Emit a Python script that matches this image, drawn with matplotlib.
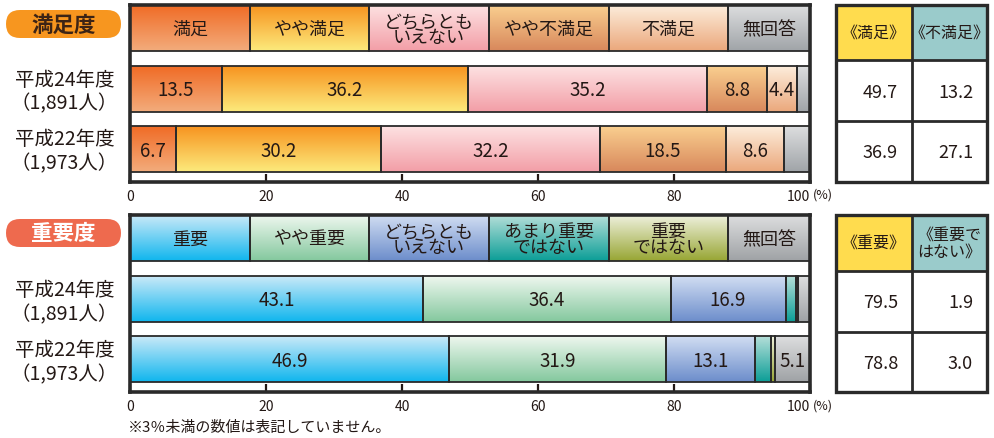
import matplotlib
matplotlib.use('Agg')
import matplotlib.pyplot as plt
import numpy as np
from matplotlib.patches import FancyBboxPatch, Rectangle
from matplotlib.colors import to_rgb

plt.rcParams['font.family'] = ['Noto Sans CJK JP', 'DejaVu Sans']

# ---------------- data ----------------
years = ['平成24年度', '平成22年度']
respondents = ['（1,891人）', '（1,973人）']

sat_title = '満足度'
sat_categories = ['満足', 'やや満足', 'どちらとも\nいえない', 'やや不満足', '不満足', '無回答']
sat_h24 = [13.5, 36.2, 35.2, 8.8, 4.4, 1.9]
sat_h22 = [6.7, 30.2, 32.2, 18.5, 8.6, 3.8]
sat_summary_headers = ['《満足》', '《不満足》']
sat_summary_h24 = [49.7, 13.2]
sat_summary_h22 = [36.9, 27.1]

imp_title = '重要度'
imp_categories = ['重要', 'やや重要', 'どちらとも\nいえない', 'あまり重要\nではない', '重要\nではない', '無回答']
imp_h24 = [43.1, 36.4, 16.9, 1.5, 0.4, 1.7]
imp_h22 = [46.9, 31.9, 13.1, 2.4, 0.6, 5.1]
imp_summary_headers = ['《重要》', '《重要で\nはない》']
imp_summary_h24 = [79.5, 1.9]
imp_summary_h22 = [78.8, 3.0]

x_ticks = [0, 20, 40, 60, 80, 100]
footnote = '※3％未満の数値は表記していません。'

# ---------------- styles ----------------
legend_widths = [17.6] * 5 + [12.0]
label_min = 4.0
EDGE = '#2a2a2a'
TXT = '#231815'
sat_grads = [('#F06A24', '#F3AC7C'), ('#F7921E', '#FCEA7C'), ('#FDE3E3', '#F39EA7'),
             ('#FAD090', '#D8885C'), ('#FDEEDD', '#EBA87C'), ('#DEDFE0', '#A0A4A8')]
imp_grads = [('#CDEAF8', '#10B6EE'), ('#F0F8F0', '#84C89E'), ('#D3DFF3', '#6C8DCB'),
             ('#B8E0DA', '#0C9E97'), ('#F0F2E0', '#98A634'), ('#DEDFE0', '#9FA2A5')]

W, H = 994, 439
fig = plt.figure(figsize=(W / 100, H / 100), dpi=100)

ov = fig.add_axes([0, 0, 1, 1])
ov.set_xlim(0, W)
ov.set_ylim(H, 0)
ov.axis('off')


def px_axes(x0, y0, x1, y1):
    return fig.add_axes([x0 / W, 1 - y1 / H, (x1 - x0) / W, (y1 - y0) / H])


def gradient(ax, patch, top, bot):
    x, y = patch.get_x(), patch.get_y()
    w, h = patch.get_width(), patch.get_height()
    c0, c1 = np.array(to_rgb(top)), np.array(to_rgb(bot))
    t = np.linspace(0, 1, 64)[:, None]
    arr = (c0 * (1 - t) + c1 * t)[:, None, :]
    im = ax.imshow(arr, extent=(x, x + w, y, y + h), origin='lower', aspect='auto',
                   zorder=2, interpolation='bilinear')
    im.set_clip_path(patch)


YLIM = (2.54, -0.38)
BH = 0.76


def draw_panel(ax, cats, rows, grads):
    lefts = np.concatenate([[0], np.cumsum(legend_widths)[:-1]])
    hb = ax.barh(0, legend_widths, left=lefts, height=BH, facecolor='none',
                 edgecolor=EDGE, linewidth=1.3, zorder=3)
    for p, c, g in zip(hb, cats, grads):
        gradient(ax, p, *g)
        ax.text(p.get_x() + p.get_width() / 2, 0.02, c, ha='center', va='center',
                fontsize=13, color=TXT, linespacing=0.88, zorder=4)
    for i, vals in enumerate(rows, start=1):
        lft = np.concatenate([[0], np.cumsum(vals)[:-1]])
        bars = ax.barh(i, vals, left=lft, height=BH, facecolor='none',
                       edgecolor=EDGE, linewidth=1.3, zorder=3)
        for p, v, g in zip(bars, vals, grads):
            gradient(ax, p, *g)
            if v >= label_min:
                ax.text(p.get_x() + p.get_width() / 2, i + 0.02, f'{v:.1f}',
                        ha='center', va='center', fontsize=13.5, color=TXT, zorder=4)
    ax.set_xlim(0, 100)
    ax.set_ylim(*YLIM)
    ax.set_yticks([])
    ax.set_xticks(x_ticks)
    labels = ax.set_xticklabels([str(t) for t in x_ticks])
    labels[-1].set_horizontalalignment('right')
    ax.tick_params(axis='x', direction='in', length=6, width=1.6, pad=5,
                   labelsize=10, colors=TXT)
    for s in ax.spines.values():
        s.set_linewidth(2.6)
        s.set_color(EDGE)


def draw_table(x0, xm, x1, ys, headers, rows):
    hc = ['#FFDC4E', '#9ACBCB']
    xs = [x0, xm, x1]
    for j in range(2):
        ov.add_patch(Rectangle((xs[j], ys[0]), xs[j + 1] - xs[j], ys[1] - ys[0],
                               facecolor=hc[j], edgecolor='none'))
        ov.text((xs[j] + xs[j + 1]) / 2, (ys[0] + ys[1]) / 2, headers[j],
                ha='center', va='center', fontsize=11.5, color=TXT, linespacing=0.9)
    for r, vals in enumerate(rows):
        for j in range(2):
            ov.text(xs[j + 1] - 14, (ys[r + 1] + ys[r + 2]) / 2 + 1, f'{vals[j]:.1f}',
                    ha='right', va='center', fontsize=13, color=TXT)
    ov.add_patch(Rectangle((x0, ys[0]), x1 - x0, ys[3] - ys[0], facecolor='none',
                           edgecolor=EDGE, linewidth=2.4))
    ov.plot([xm, xm], [ys[0], ys[3]], color=EDGE, lw=2)
    for yy in ys[1:3]:
        ov.plot([x0, x1], [yy, yy], color=EDGE, lw=2)


def draw_pill(y0, text, fc, tc):
    ov.add_patch(FancyBboxPatch((6, y0), 115, 28, boxstyle='round,pad=0,rounding_size=14',
                                facecolor=fc, edgecolor='none'))
    ov.text(63.5, y0 + 14, text, ha='center', va='center', fontsize=15.5,
            fontweight='bold', color=tc)


def row_labels(centers):
    for c, yr, n in zip(centers, years, respondents):
        ov.text(65, c - 10, yr, ha='center', va='center', fontsize=14, color=TXT)
        ov.text(64, c + 14, n, ha='center', va='center', fontsize=14, color=TXT)


# ---- 満足度 panel ----
ax1 = px_axes(130, 6, 810, 183)
draw_panel(ax1, sat_categories, [sat_h24, sat_h22], sat_grads)
draw_pill(11, sat_title, '#F7961F', '#3C2415')
row_labels([90, 150])
ov.text(813, 195, '(%)', ha='left', va='center', fontsize=9, color=TXT)
draw_table(836, 912, 987, [6, 61, 122, 183], sat_summary_headers,
           [sat_summary_h24, sat_summary_h22])

# ---- 重要度 panel ----
ax2 = px_axes(130, 216, 810, 393)
draw_panel(ax2, imp_categories, [imp_h24, imp_h22], imp_grads)
draw_pill(220, imp_title, '#EE6A4E', 'white')
row_labels([300.5, 360.5])
ov.text(813, 406, '(%)', ha='left', va='center', fontsize=9, color=TXT)
draw_table(836, 912, 987, [216, 272, 333, 393], imp_summary_headers,
           [imp_summary_h24, imp_summary_h22])

ov.text(128, 428, footnote, ha='left', va='center', fontsize=10.8, color=TXT)

fig.savefig('out.png', dpi=100)
